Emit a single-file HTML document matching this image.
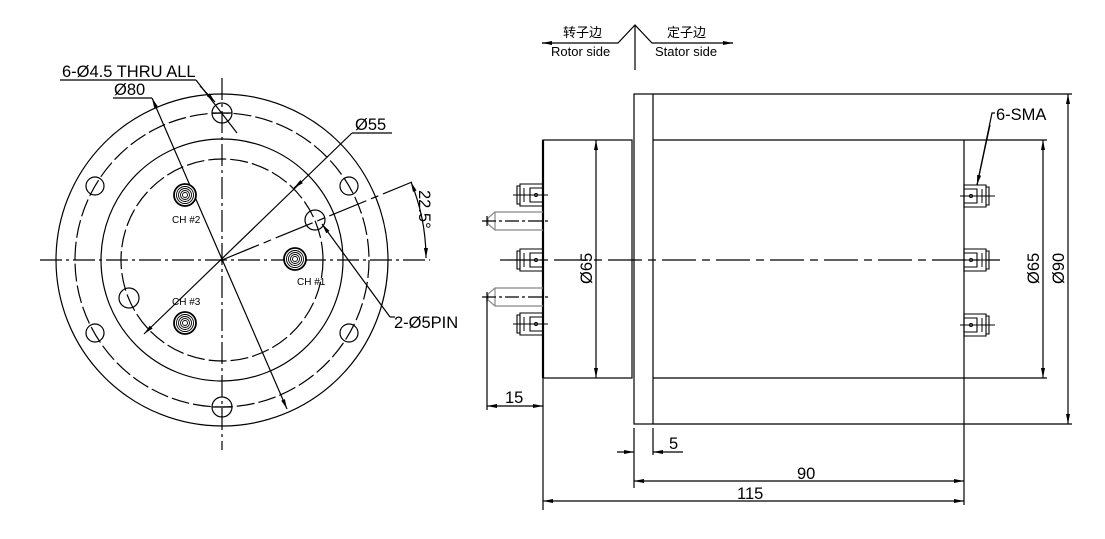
<!DOCTYPE html>
<html><head><meta charset="utf-8"><style>html,body{margin:0;padding:0;background:#fff}svg{display:block}text{font-family:"Liberation Sans","Noto Sans CJK SC",sans-serif;fill:#000}</style></head><body>
<svg width="1105" height="539" viewBox="0 0 1105 539" xmlns="http://www.w3.org/2000/svg">
<defs>
<marker id="a" viewBox="0 0 10 4" refX="10" refY="2" markerWidth="10" markerHeight="4" orient="auto-start-reverse" markerUnits="userSpaceOnUse"><path d="M0,0 L10,2 L0,4z" fill="#000"/></marker>
<g id="coax"><circle r="11" fill="#fff" stroke="#000" stroke-width="1.8"/><circle r="8.5" fill="none" stroke="#000" stroke-width="0.9"/><circle r="6.5" fill="none" stroke="#000" stroke-width="0.9"/><circle r="4.5" fill="none" stroke="#000" stroke-width="0.9"/><circle r="2.5" fill="none" stroke="#000" stroke-width="0.9"/></g>
<g id="smaL"><path d="M517,-9 H520 V9 H517z M520,-11 H543 V11 H520z M530,-7 H543 V7 H530z" fill="none" stroke="#000" stroke-width="1.1"/><circle cx="536" cy="0" r="1.5" fill="none" stroke="#000"/><line x1="513" y1="0" x2="548" y2="0" stroke="#000"/><line x1="524" y1="-7" x2="524" y2="7" stroke="#000"/></g>
<g id="smaR"><path d="M964,-11 H986 V11 H964z M986,-9 H989 V9 H986z M964,-7 H977 V7 H964z" fill="none" stroke="#000" stroke-width="1.1"/><circle cx="971" cy="0" r="1.5" fill="none" stroke="#000"/><line x1="960" y1="0" x2="995" y2="0" stroke="#000"/><line x1="982" y1="-7" x2="982" y2="7" stroke="#000"/></g>
</defs>
<g fill="none" stroke="#000" stroke-width="1.2">
<circle cx="222" cy="260" r="166"/>
<circle cx="222" cy="260" r="147" stroke-dasharray="18,4"/>
<circle cx="222" cy="260" r="121"/>
<circle cx="222" cy="260" r="101" stroke-dasharray="18,4"/>
<circle cx="222" cy="113" r="10"/><circle cx="222" cy="407" r="10"/>
<circle cx="95" cy="186" r="9"/><circle cx="349" cy="186" r="9"/>
<circle cx="95" cy="333" r="9"/><circle cx="349" cy="333" r="9"/>
<circle cx="315" cy="220" r="10"/><circle cx="129" cy="298" r="10"/>
<line x1="40" y1="260" x2="430" y2="260" stroke-dasharray="22,4,3,4"/>
<line x1="222" y1="78" x2="222" y2="450" stroke-dasharray="22,4,3,4"/>
<line x1="212" y1="113" x2="232" y2="113"/><line x1="212" y1="407" x2="232" y2="407"/>
<line x1="152" y1="98" x2="287" y2="409" marker-start="url(#a)" marker-end="url(#a)"/>
<line x1="113" y1="98" x2="152" y2="98"/>
<line x1="144" y1="334" x2="352" y2="133" marker-start="url(#a)"/>
<line x1="300" y1="183" x2="294" y2="188" marker-end="url(#a)"/>
<line x1="352" y1="133" x2="392" y2="133"/>
<line x1="60" y1="80" x2="196" y2="80"/>
<line x1="196" y1="80" x2="237" y2="133"/>
<line x1="200" y1="86" x2="215" y2="102" marker-end="url(#a)"/>
<line x1="222" y1="260" x2="412" y2="182" stroke-dasharray="40,5,8,5"/>
<path d="M411,182 A204,204 0 0 1 426,258" marker-start="url(#a)" marker-end="url(#a)"/>
<line x1="322" y1="224" x2="390" y2="317" marker-start="url(#a)"/>
<line x1="390" y1="317" x2="395" y2="317"/>
<rect x="543" y="140" width="89" height="238"/>
<rect x="634" y="94" width="19" height="330"/>
<line x1="653" y1="140" x2="964" y2="140"/><line x1="653" y1="378" x2="964" y2="378"/>
<line x1="964" y1="140" x2="964" y2="505"/>
<line x1="543" y1="378" x2="543" y2="510"/>
<line x1="543" y1="140" x2="543" y2="378" stroke-width="2.2"/>
<line x1="634" y1="428" x2="634" y2="488"/><line x1="653" y1="428" x2="653" y2="455"/>
<line x1="487" y1="297" x2="487" y2="410"/>
<line x1="500" y1="260" x2="1000" y2="260" stroke-dasharray="34,6,8,6"/>
<path d="M543,212 H495 L488,218 V224 L495,230 H543" stroke="#888"/>
<path d="M495,212 V230" stroke="#888"/>
<line x1="482" y1="221" x2="548" y2="221" stroke-dasharray="14,3,3,3"/>
<path d="M543,288 H495 L488,294 V300 L495,306 H543" stroke="#888"/>
<path d="M495,288 V306" stroke="#888"/>
<line x1="482" y1="297" x2="548" y2="297" stroke-dasharray="14,3,3,3"/>
<line x1="487" y1="216" x2="487" y2="226"/><line x1="487" y1="292" x2="487" y2="302"/>
<line x1="596" y1="140" x2="596" y2="378" marker-start="url(#a)" marker-end="url(#a)"/>
<line x1="487" y1="406" x2="543" y2="406" marker-start="url(#a)" marker-end="url(#a)"/>
<line x1="617" y1="452" x2="634" y2="452" marker-end="url(#a)"/>
<line x1="683" y1="452" x2="653" y2="452" marker-end="url(#a)"/>
<line x1="634" y1="481" x2="964" y2="481" marker-start="url(#a)" marker-end="url(#a)"/>
<line x1="543" y1="501" x2="964" y2="501" marker-start="url(#a)" marker-end="url(#a)"/>
<line x1="964" y1="140" x2="1047" y2="140"/><line x1="964" y1="378" x2="1047" y2="378"/>
<line x1="1043" y1="140" x2="1043" y2="378" marker-start="url(#a)" marker-end="url(#a)"/>
<line x1="653" y1="94" x2="1072" y2="94"/><line x1="653" y1="424" x2="1072" y2="424"/>
<line x1="1068" y1="94" x2="1068" y2="424" marker-start="url(#a)" marker-end="url(#a)"/>
<path d="M995,113 H992 L977,185" />
<line x1="990" y1="125" x2="977" y2="185" marker-end="url(#a)"/>
<path d="M542,43 H618 L635,25 L652,43 H733"/>
<line x1="548" y1="43" x2="542" y2="43" marker-end="url(#a)"/>
<line x1="727" y1="43" x2="733" y2="43" marker-end="url(#a)"/>
<line x1="635" y1="25" x2="635" y2="70"/>
</g>
<use href="#coax" x="185" y="195"/><use href="#coax" x="185" y="323"/><use href="#coax" x="295" y="259"/>
<use href="#smaL" y="195"/><use href="#smaL" y="260"/><use href="#smaL" y="324"/>
<use href="#smaR" y="196"/><use href="#smaR" y="260"/><use href="#smaR" y="325"/>
<circle cx="222" cy="260" r="1.5" fill="#000"/>
<g font-size="10"><text x="172" y="223">CH #2</text><text x="297" y="285">CH #1</text><text x="172" y="305">CH #3</text></g>
<g font-size="16.5">
<text x="62" y="77">6-Ø4.5 THRU ALL</text>
<text x="114" y="95">Ø80</text>
<text x="355" y="130">Ø55</text>
<text x="394" y="328">2-Ø5PIN</text>
<text transform="translate(419,190) rotate(90)">22.5°</text>
<text x="505" y="403">15</text>
<text x="669" y="449">5</text>
<text x="797" y="479">90</text>
<text x="737" y="499">115</text>
<text x="996" y="120">6-SMA</text>
<text transform="translate(592,284) rotate(-90)">Ø65</text>
<text transform="translate(1039,284) rotate(-90)">Ø65</text>
<text transform="translate(1064,284) rotate(-90)">Ø90</text>
</g>
<g font-size="13">
<text x="563" y="37">转子边</text><text x="551" y="56">Rotor side</text>
<text x="667" y="37">定子边</text><text x="655" y="56">Stator side</text>
</g>
</svg>
</body></html>
